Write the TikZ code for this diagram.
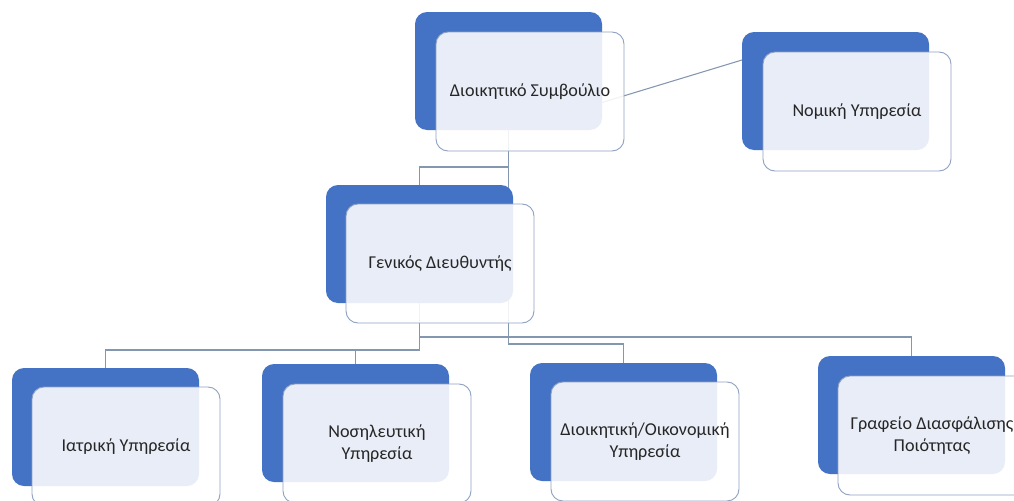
\documentclass[tikz,border=0pt]{standalone}
\usepackage{fontspec}
\setmainfont{Carlito}
\usetikzlibrary{calc}
\pgfdeclarelayer{bg}
\pgfsetlayers{bg,main}
\definecolor{accent}{HTML}{4472C4}
\definecolor{edgec}{HTML}{8FA2C2}
\definecolor{linec}{HTML}{8497B0}
\begin{document}
\begin{tikzpicture}[x=0.75pt,y=-0.75pt,
  backbox/.style={fill=accent, draw=none, rounded corners=9pt, anchor=north west,
    minimum width=140.25pt, minimum height=88.5pt, inner sep=0pt, outer sep=0pt},
  frontbox/.style={fill=white, fill opacity=0.88, text opacity=1, draw=edgec, line width=0.7pt,
    rounded corners=9pt, anchor=north west, minimum width=141pt, minimum height=89.25pt,
    inner sep=0pt, outer sep=0pt},
  lbl/.style={align=center, font=\fontsize{13.6}{16.3}\selectfont, text=black!85, inner sep=0pt},
  conn/.style={draw=linec, line width=0.8pt}]
\clip (0,0) rectangle (1014,500);

% boxes
\node[backbox] (board-b) at (415,12) {};
\node[frontbox] (board-f) at (436,32) {};
\node[lbl] (board-t) at (board-f.center) {Διοικητικό Συμβούλιο};

\node[backbox] (legal-b) at (742,32) {};
\node[frontbox] (legal-f) at (763,52) {};
\node[lbl] (legal-t) at (legal-f.center) {Νομική Υπηρεσία};

\node[backbox] (gm-b) at (326,185) {};
\node[frontbox] (gm-f) at (346,204) {};
\node[lbl] (gm-t) at (gm-f.center) {Γενικός Διευθυντής};

\node[backbox] (med-b) at (12,368) {};
\node[frontbox] (med-f) at (32,387) {};
\node[lbl] (med-t) at (med-f.center) {Ιατρική Υπηρεσία};

\node[backbox] (nurs-b) at (262,364) {};
\node[frontbox] (nurs-f) at (283,384) {};
\node[lbl] (nurs-t) at (nurs-f.center) {Νοσηλευτική\\Υπηρεσία};

\node[backbox] (adm-b) at (530,363) {};
\node[frontbox] (adm-f) at (551,382) {};
\node[lbl] (adm-t) at (adm-f.center) {Διοικητική/Οικονομική\\Υπηρεσία};

\node[backbox] (qual-b) at (818,356) {};
\node[frontbox] (qual-f) at (838,376) {};
\node[lbl] (qual-t) at (qual-f.center) {Γραφείο Διασφάλισης\\Ποιότητας};

% connectors
\begin{pgfonlayer}{bg}
\fill[white] (0,0) rectangle (1014,500);
\coordinate (bl1) at ($(board-b.east)+(0,31.5)$);
\coordinate (bl2) at ($(legal-b.west)+(0,-31)$);
\draw[conn] (bl1) -- (bl2);
\draw[conn] (board-b.south) -- ($(board-b.south)+(0,37)$) -| (gm-b.north);
\draw[conn] (board-b.south) |- ($(adm-b.north)+(0,-19)$) -- (adm-b.north);
\draw[conn] (gm-b.south) |- ($(med-b.north)+(0,-18)$) -- (med-b.north);
\draw[conn] ($(gm-b.south)+(0,47)$) -| (nurs-b.north);
\draw[conn] (gm-b.south) |- ($(qual-b.north)+(0,-19)$) -- (qual-b.north);
\end{pgfonlayer}
\end{tikzpicture}
\end{document}
